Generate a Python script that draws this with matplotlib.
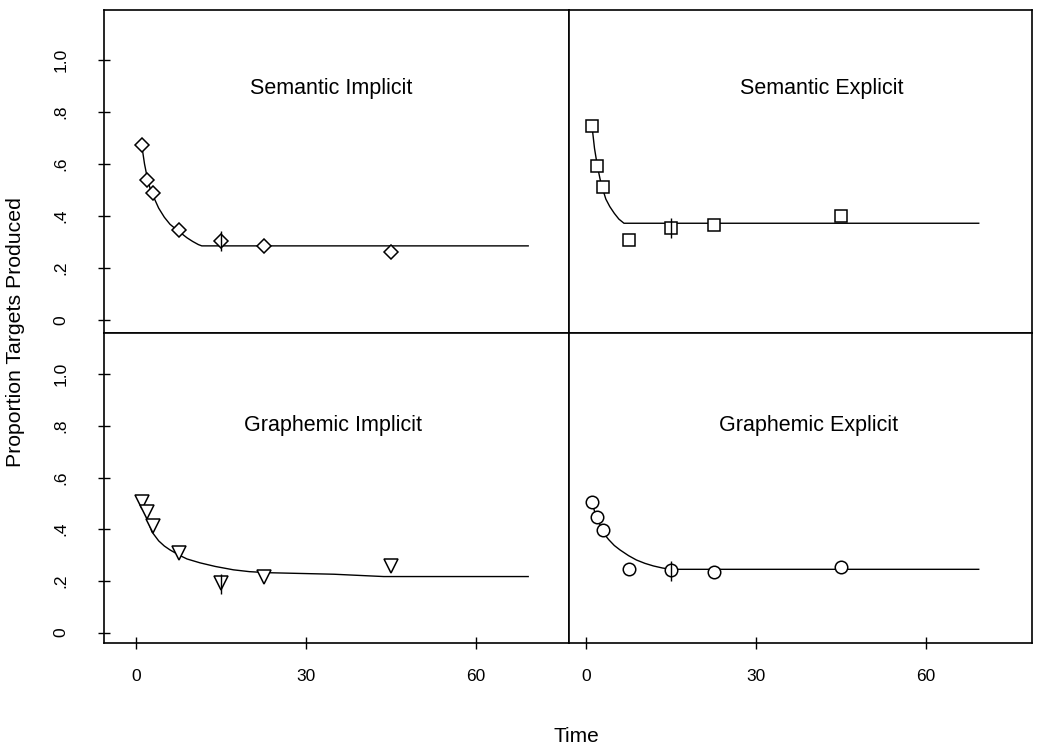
import matplotlib
matplotlib.use("Agg")
import matplotlib.pyplot as plt

plt.rcParams['font.family'] = ['Liberation Sans', 'DejaVu Sans']

# time points of the observations
times = [1, 2, 3, 7.5, 15, 22.5, 45]

# observed proportions per condition
sem_impl = [0.674, 0.538, 0.488, 0.345, 0.304, 0.285, 0.262]
sem_expl = [0.745, 0.593, 0.510, 0.306, 0.353, 0.364, 0.401]
gra_impl = [0.504, 0.468, 0.414, 0.307, 0.193, 0.214, 0.259]
gra_expl = [0.504, 0.449, 0.397, 0.248, 0.243, 0.236, 0.254]

# fitted curves
fit_sem_impl_t = [1, 1.5, 2, 2.5, 3, 4, 5, 6, 7, 8, 9, 10, 11, 11.6, 69.2]
fit_sem_impl_y = [0.673, 0.600, 0.545, 0.505, 0.478, 0.430, 0.395, 0.368,
                  0.350, 0.333, 0.316, 0.302, 0.290, 0.285, 0.285]
fit_sem_expl_t = [1.06, 1.5, 2, 2.5, 3, 3.5, 4.2, 5, 5.8, 6.7, 69.3]
fit_sem_expl_y = [0.745, 0.660, 0.593, 0.540, 0.500, 0.465, 0.436, 0.410,
                  0.388, 0.372, 0.372]
fit_gra_impl_t = [1, 1.5, 2, 2.8, 4, 5, 6, 7.6, 9, 11.3, 14, 17.2, 20, 23.1,
                  34.9, 43.7, 69.2]
fit_gra_impl_y = [0.500, 0.465, 0.440, 0.390, 0.355, 0.335, 0.320, 0.300,
                  0.285, 0.270, 0.256, 0.243, 0.236, 0.232, 0.226, 0.217, 0.217]
fit_gra_expl_t = [1.06, 1.5, 2.1, 2.9, 4, 5, 6, 7.5, 8.9, 10.4, 11.9, 13.5,
                  15.1, 69.3]
fit_gra_expl_y = [0.504, 0.470, 0.440, 0.390, 0.360, 0.337, 0.320, 0.298,
                  0.281, 0.268, 0.258, 0.250, 0.245, 0.245]

# vertical break marks at t = 15
break_t = 15
break_y = [0.305, 0.352, 0.188, 0.239]

titles = ['Semantic Implicit', 'Semantic Explicit', 'Graphemic Implicit', 'Graphemic Explicit']
title_pos = [(34.4, 0.892), (41.6, 0.892), (34.8, 0.803), (39.3, 0.803)]
markers = ['D', 's', 'v', 'o']
msizes = [7, 9, 10, 9]

ytick_vals = [0, 0.2, 0.4, 0.6, 0.8, 1.0]
ytick_labels = ['0', '.2', '.4', '.6', '.8', '1.0']
xtick_vals = [0, 30, 60]

obs = [sem_impl, sem_expl, gra_impl, gra_expl]
fits = [(fit_sem_impl_t, fit_sem_impl_y), (fit_sem_expl_t, fit_sem_expl_y),
        (fit_gra_impl_t, fit_gra_impl_y), (fit_gra_expl_t, fit_gra_expl_y)]

W, H = 1048, 746
fig = plt.figure(figsize=(W / 100, H / 100), dpi=100)

# panel rectangles in pixels: left, right, top, bottom
rects = [(104, 569, 10, 333), (569, 1032, 10, 333),
         (104, 569, 333, 643), (569, 1032, 333, 643)]
xlims = [(-5.65, 76.4), (-3.0, 78.7), (-5.65, 76.4), (-3.0, 78.7)]
ylims = [(-0.05, 1.192), (-0.05, 1.192), (-0.04, 1.159), (-0.04, 1.159)]

for i in range(4):
    l, r, t, b = rects[i]
    ax = fig.add_axes([l / W, 1 - b / H, (r - l) / W, (b - t) / H])
    ft, fy = fits[i]
    ax.plot(ft, fy, color='black', lw=1.0)
    ax.plot(times, obs[i], linestyle='none', marker=markers[i], ms=msizes[i],
            mfc='white', mec='black', mew=1.1)
    ax.plot([break_t], [break_y[i]], linestyle='none', marker='|', ms=15,
            mec='black', mew=1.0)
    ax.set_xlim(*xlims[i])
    ax.set_ylim(*ylims[i])
    ax.text(title_pos[i][0], title_pos[i][1], titles[i], ha='center', va='center',
            fontsize=15.5)
    for s in ax.spines.values():
        s.set_linewidth(1.2)
    ax.tick_params(direction='inout', length=9, width=1.0, labelsize=12.5)
    if i % 2 == 0:
        ax.set_yticks(ytick_vals)
        ax.set_yticklabels(ytick_labels, rotation=90, va='center')
        ax.tick_params(axis='y', pad=21)
    else:
        ax.set_yticks([])
    if i >= 2:
        ax.set_xticks(xtick_vals)
        ax.tick_params(axis='x', pad=14)
    else:
        ax.set_xticks([])

fig.text(16 / W, 1 - 332 / H, 'Proportion Targets Produced', rotation=90,
         ha='center', va='center', fontsize=15.3)
fig.text(576 / W, 1 - 737 / H, 'Time', ha='center', va='center', fontsize=15)

fig.savefig('out.png', dpi=100)
